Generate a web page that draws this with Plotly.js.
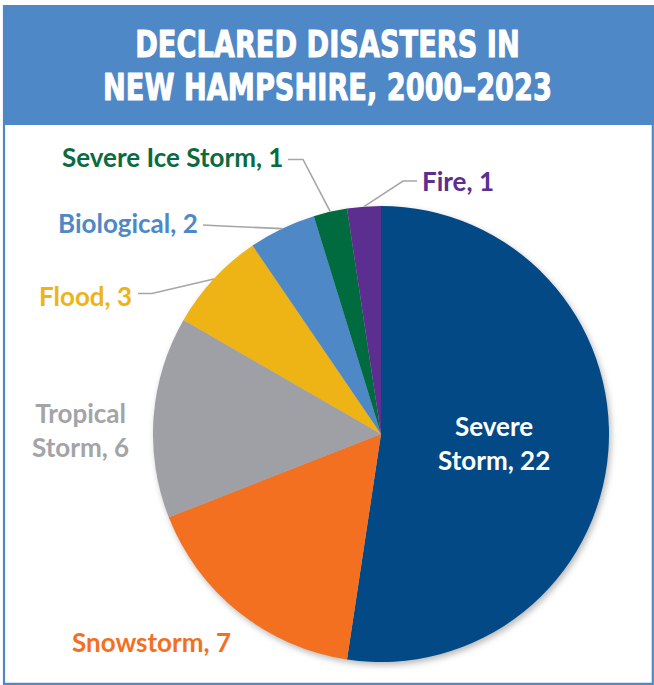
<!DOCTYPE html>
<html>
<head>
<meta charset="utf-8">
<script src="https://cdn.plot.ly/plotly-3.0.1.min.js"></script>
<style>
  html, body { margin: 0; padding: 0; background: #ffffff; }
  #chart { width: 654px; height: 685px; }
  /* soft shadow under the pie */
  .pielayer { filter: drop-shadow(2px 3px 3px rgba(0, 0, 0, 0.28)); }
  /* heavier heading strokes */
  .gtitle { stroke: #ffffff; stroke-width: 1px; stroke-linejoin: round; }
</style>
</head>
<body>
<div id="chart"></div>
<script>
// Declared disasters in New Hampshire, 2000–2023, by type (clockwise from 12 o'clock)
const categories = ['Severe Storm', 'Snowstorm', 'Tropical Storm', 'Flood', 'Biological', 'Severe Ice Storm', 'Fire'];
const counts = [22, 7, 6, 3, 2, 1, 1];
const sliceColors = ['#034986', '#f37021', '#9fa0a5', '#eeb315', '#4f88c6', '#006b3f', '#5b2e90'];
const labelColors = ['#ffffff', '#f37021', '#a3a4a8', '#eeb315', '#4f88c6', '#0b6b40', '#5b2e90'];
const titleLines = ['DECLARED DISASTERS IN', 'NEW HAMPSHIRE, 2000–2023'];

// ---- layout (pixel geometry of the 654 x 685 figure) ----
const W = 654, H = 685;
const CX = 381, CY = 434, R = 228;          // pie centre and radius
const BLUE = '#4f88c6';
const LEADER = '#a6a6a6';
const labelFont = { family: "Lato, 'Open Sans', sans-serif", size: 26, weight: 'bold' };

// where each category's label sits; leader = label end and elbow of the connector
const labelSpots = [
  { x: 493.5, y: 443,   xanchor: 'center', wrap: true },
  { x: 151.5, y: 641.5, xanchor: 'center' },
  { x: 80,    y: 430,   xanchor: 'center', wrap: true },
  { x: 134,   y: 296,   xanchor: 'right', leader: [[138, 293.5], [152, 293.5]] },
  { x: 200,   y: 223,   xanchor: 'right', leader: [[203, 225], [222, 226]] },
  { x: 285,   y: 157,   xanchor: 'right', leader: [[288, 159.5], [303, 159.5]] },
  { x: 420,   y: 181,   xanchor: 'left',  leader: [[417, 181], [403, 181]] }
];

const px = x => x / W;
const py = y => 1 - y / H;

// rim point at the middle of slice i (angles run clockwise from the top)
const total = counts.reduce((a, b) => a + b, 0);
function rimPoint(i) {
  const before = counts.slice(0, i).reduce((a, b) => a + b, 0);
  const theta = (before + counts[i] / 2) / total * 2 * Math.PI;
  return [CX + R * Math.sin(theta), CY - R * Math.cos(theta)];
}

const labelText = categories.map((c, i) => {
  const name = labelSpots[i].wrap ? c.replace(' ', '<br>') : c;
  return name + ', ' + counts[i];
});

const annotations = labelSpots.map((s, i) => ({
  xref: 'paper', yref: 'paper',
  x: px(s.x), y: py(s.y),
  xanchor: s.xanchor, yanchor: 'middle', align: 'center',
  showarrow: false,
  text: labelText[i],
  font: Object.assign({}, labelFont, { color: labelColors[i] })
}));

const shapes = [
  // title band
  { type: 'rect', xref: 'paper', yref: 'paper', layer: 'below',
    x0: px(3), x1: px(654), y0: py(125), y1: py(5),
    fillcolor: BLUE, line: { width: 0 } },
  // frame
  { type: 'rect', xref: 'paper', yref: 'paper', layer: 'below',
    x0: px(4), x1: px(652.8), y0: py(683.8), y1: py(6),
    fillcolor: 'rgba(0,0,0,0)', line: { color: BLUE, width: 2.2 } }
];
labelSpots.forEach((s, i) => {
  if (!s.leader) return;
  const end = rimPoint(i);
  const pts = [s.leader[0], s.leader[1], end];
  const path = pts.map((p, k) => (k ? 'L' : 'M') + px(p[0]) + ',' + py(p[1])).join(' ');
  shapes.push({ type: 'path', xref: 'paper', yref: 'paper', path: path,
                line: { color: LEADER, width: 1.6 } });
});

const trace = {
  type: 'pie',
  labels: categories,
  values: counts,
  sort: false,
  direction: 'clockwise',
  rotation: 0,
  marker: { colors: sliceColors, line: { width: 0 } },
  textinfo: 'none',
  hoverinfo: 'label+value',
  showlegend: false,
  domain: { x: [px(CX - R), px(CX + R)], y: [py(CY + R), py(CY - R)] }
};

const layout = {
  width: W, height: H,
  margin: { l: 0, r: 0, t: 0, b: 0 },
  paper_bgcolor: '#ffffff',
  showlegend: false,
  title: {
    text: titleLines.join('<br>'),
    font: { family: "'Liberation Sans Narrow', 'DejaVu Sans Condensed', sans-serif", size: 37, weight: 'bold', color: '#ffffff' },
    x: 0.5, xanchor: 'center', xref: 'container',
    y: 1 - 30 / H, yanchor: 'top', yref: 'container'
  },
  annotations: annotations,
  shapes: shapes
};

Plotly.newPlot('chart', [trace], layout, { displayModeBar: false, staticPlot: true }).then(gd => {
  // set the heading in a tight, condensed block inside the band
  const t = gd.querySelector('.gtitle');
  if (!t) return;
  t.querySelectorAll('tspan.line').forEach((ln, k) => { if (k > 0) ln.setAttribute('dy', '44'); });
  const bb = t.getBBox();
  const rect = t.getBoundingClientRect();
  const host = gd.getBoundingClientRect();
  const sx = 449 / bb.width;
  const cxLocal = bb.x + bb.width / 2;
  const shiftX = 327.5 - (rect.left - host.left + rect.width / 2);
  const ty = 22.5 - (rect.top - host.top);
  const prev = t.getAttribute('transform') || '';
  t.setAttribute('transform',
    (prev + ' translate(' + (shiftX + cxLocal * (1 - sx)) + ',' + ty + ') scale(' + sx + ',1)').trim());
});
</script>
</body>
</html>
